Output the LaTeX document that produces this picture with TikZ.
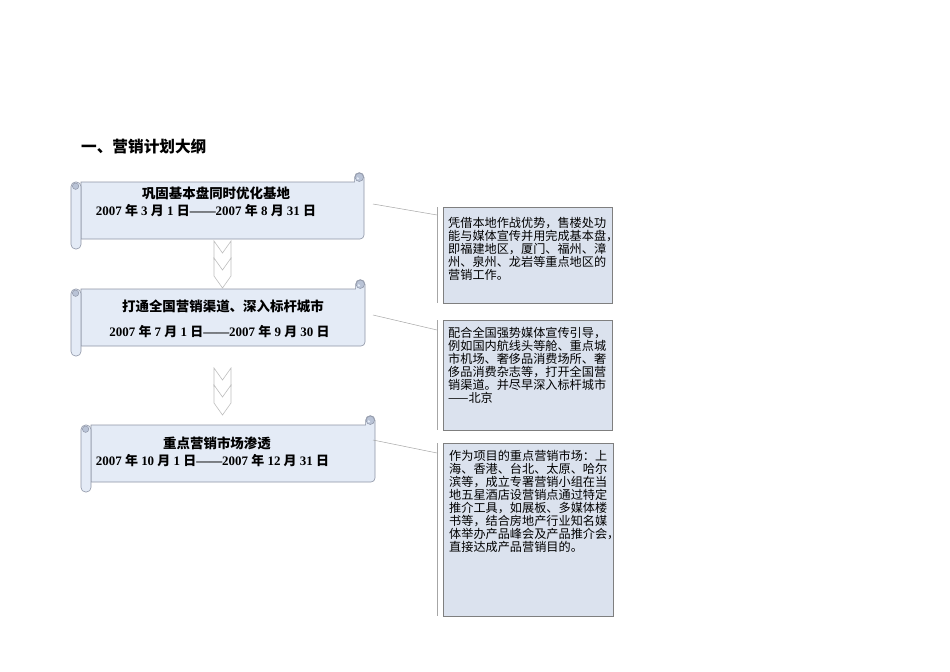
\documentclass[tikz,border=0pt]{standalone}
\usepackage{fontspec}
\setmainfont{Liberation Serif}
\newfontfamily\cjk{Noto Sans CJK SC}
\newcommand\cj[1]{{\cjk #1}}
\definecolor{scrollbg}{HTML}{E4EBF6}
\definecolor{curlbg}{HTML}{B9C3D6}
\definecolor{scrollline}{HTML}{8E95A6}
\definecolor{boxbg}{HTML}{DBE2EE}
\definecolor{boxline}{HTML}{7F7F7F}
\definecolor{leadline}{HTML}{A6A6A6}
\definecolor{chevline}{HTML}{BFBFBF}
\tikzset{
  scrollfill/.style={fill=scrollbg, draw=scrollline, line width=0.6bp},
  curlfill/.style={fill=curlbg, draw=scrollline, line width=0.5bp},
  calloutbox/.style={draw=boxline, fill=boxbg, line width=0.6bp, inner sep=0, anchor=north west},
  leader/.style={draw=leadline, line width=0.5bp},
  accentbar/.style={draw=leadline, line width=0.7bp},
  chev/.style={draw=chevline, fill=white, line width=0.6bp},
  boxtext/.style={anchor=north west, inner sep=0, align=left, font=\cjk\fontsize{12.2}{13.1}\selectfont},
  stitle/.style={inner sep=0, font=\cjk\bfseries\fontsize{13.5}{15}\selectfont},
  sdate/.style={inner sep=0, font=\bfseries\fontsize{13}{15}\selectfont},
  heading/.style={inner sep=0, anchor=west, font=\cjk\bfseries\fontsize{15.7}{18}\selectfont},
}
% x0 x1 x2 top bot
\newcommand\myscroll[5]{%
  \filldraw[scrollfill] (#2,#4) -- ({#3-9.4},#4) -- ({#3-9.4},{#4-4.7})
    arc[start angle=180,end angle=360,radius=4.7] -- (#3,{#5-4})
    arc[start angle=0,end angle=90,radius=4] -- (#2,#5) -- cycle;
  \filldraw[curlfill] ({#3-4.7},{#4-4.7}) circle[radius=4.2];
  \fill[scrollbg] ({#3-6.2},{#4-3.6}) circle[radius=1.3];
  \filldraw[scrollfill, rounded corners=4.5] (#1,#4) rectangle (#2,{#5+10});
  \filldraw[curlfill] ({#1+4.6},{#4+4.2}) circle[radius=3.2];
}
% cx top
\newcommand\mychev[2]{%
  \filldraw[chev] ({#1-8.5},#2) -- (#1,{#2+12}) -- ({#1+8.5},#2) -- ({#1+8.5},{#2+18})
    -- (#1,{#2+30}) -- ({#1-8.5},{#2+18}) -- cycle;
}
\begin{document}
\begin{tikzpicture}[x=1bp,y=-1bp]
\useasboundingbox (0,0) rectangle (950,672);
\fill[white] (0,0) rectangle (950,672);

\node[heading] (head) at (81,147) {一、营销计划大纲};

% scrolls
\myscroll{71}{81}{364}{182}{239}
\myscroll{71}{81}{365}{289}{346}
\myscroll{81}{91}{375}{425}{482}

\node[stitle] (s1t) at (216,193) {巩固基本盘同时优化基地};
\node[sdate] (s1d) at (206,211) {2007 \cj{年} 3 \cj{月} 1 \cj{日}——2007 \cj{年} 8 \cj{月} 31 \cj{日}};
\node[stitle] (s2t) at (223,306) {打通全国营销渠道、深入标杆城市};
\node[sdate] (s2d) at (219.5,332) {2007 \cj{年} 7 \cj{月} 1 \cj{日}——2007 \cj{年} 9 \cj{月} 30 \cj{日}};
\node[stitle] (s3t) at (217,443) {重点营销市场渗透};
\node[sdate] (s3d) at (212.5,461) {2007 \cj{年} 10 \cj{月} 1 \cj{日}——2007 \cj{年} 12 \cj{月} 31 \cj{日}};

% chevron arrows
\mychev{222.5}{241}
\mychev{222.5}{258}
\mychev{222.5}{368}
\mychev{222.5}{385}

% callout boxes
\node[calloutbox, minimum width=169bp, minimum height=96bp] (box1) at (443,207) {};
\node[calloutbox, minimum width=169bp, minimum height=110bp] (box2) at (443,320) {};
\node[calloutbox, minimum width=170bp, minimum height=173bp] (box3) at (443,443) {};

\node[boxtext] (t1) at (448,217) {凭借本地作战优势，售楼处功\\能与媒体宣传并用完成基本盘，\\即福建地区，厦门、福州、漳\\州、泉州、龙岩等重点地区的\\营销工作。};
\node[boxtext] (t2) at (448,327) {配合全国强势媒体宣传引导，\\例如国内航线头等舱、重点城\\市机场、奢侈品消费场所、奢\\侈品消费杂志等，打开全国营\\销渠道。并尽早深入标杆城市\\——北京};
\node[boxtext] (t3) at (449,450) {作为项目的重点营销市场：上\\海、香港、台北、太原、哈尔\\滨等，成立专署营销小组在当\\地五星酒店设营销点通过特定\\推介工具，如展板、多媒体楼\\书等，结合房地产行业知名媒\\体举办产品峰会及产品推介会，\\直接达成产品营销目的。};

% accent bars
\coordinate (bar1t) at (437,207); \coordinate (bar1b) at (437,303);
\coordinate (bar2t) at (437,320); \coordinate (bar2b) at (437,430);
\coordinate (bar3t) at (437,443); \coordinate (bar3b) at (437,616);
\draw[accentbar] (bar1t) -- (bar1b);
\draw[accentbar] (bar2t) -- (bar2b);
\draw[accentbar] (bar3t) -- (bar3b);

% leader lines
\coordinate (lead1a) at (373,204); \coordinate (lead1b) at (437,215);
\coordinate (lead2a) at (373,315); \coordinate (lead2b) at (437,330);
\coordinate (lead3a) at (373,440); \coordinate (lead3b) at (437,453);
\draw[leader] (lead1a) -- (lead1b);
\draw[leader] (lead2a) -- (lead2b);
\draw[leader] (lead3a) -- (lead3b);
\end{tikzpicture}
\end{document}
